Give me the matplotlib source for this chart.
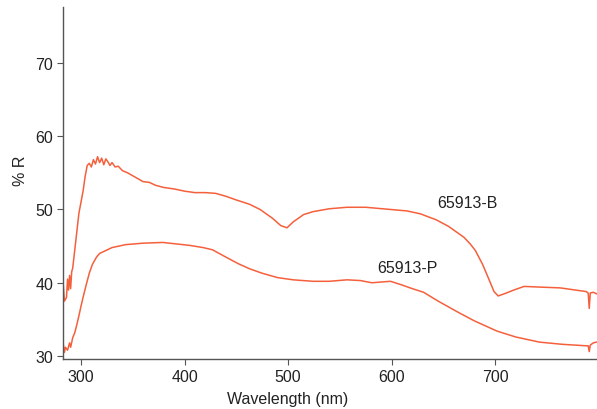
import matplotlib
matplotlib.use("Agg")
import matplotlib.pyplot as plt

plt.rcParams["font.family"] = ["Liberation Sans", "DejaVu Sans"]

wl_b = [283, 284, 286, 287, 288, 289, 290, 291, 292, 294, 296, 298, 300, 302, 304, 306,
        308, 310, 312, 314, 316, 318, 320, 322, 324, 326, 328, 330, 333, 336, 340, 345,
        350, 355, 360, 366, 372, 380, 390, 400, 410, 420, 430, 440, 450, 463, 473, 485,
        493, 499, 505, 515, 524, 540, 557, 575, 599, 615, 628, 643, 655, 663, 670, 676,
        681, 688, 694, 699, 703, 709, 718, 728, 745, 763, 778, 788, 790, 791, 792, 795, 798]
r_b = [39.5, 37.5, 38.0, 40.5, 39.0, 41.0, 39.2, 41.5, 42.0, 44.5, 47.0, 49.5, 51.0, 52.5,
       54.5, 56.0, 56.3, 55.8, 56.8, 56.2, 57.2, 56.4, 57.0, 56.1, 56.9, 56.5, 56.0, 56.4,
       55.8, 55.9, 55.3, 55.0, 54.6, 54.2, 53.8, 53.7, 53.3, 53.0, 52.8, 52.5, 52.3, 52.3,
       52.2, 51.8, 51.3, 50.7, 50.0, 48.8, 47.8, 47.5, 48.3, 49.3, 49.7, 50.1, 50.3, 50.3,
       50.0, 49.8, 49.4, 48.6, 47.7, 46.9, 46.2, 45.3, 44.4, 42.5, 40.5, 38.8, 38.2, 38.5,
       39.0, 39.5, 39.4, 39.3, 39.0, 38.8, 38.6, 36.5, 38.6, 38.7, 38.5]

wl_p = [283, 284, 285, 287, 289, 290, 292, 294, 296, 298, 300, 302, 305, 308, 311, 315,
        318, 324, 330, 343, 360, 379, 392, 405, 418, 427, 440, 452, 463, 475, 490, 505,
        524, 540, 557, 570, 581, 590, 599, 610, 620, 631, 645, 664, 680, 702, 720, 743,
        765, 788, 790, 791, 792, 795, 798]
r_p = [31.5, 30.5, 31.2, 30.8, 31.8, 31.2, 32.5, 33.2, 34.3, 35.5, 36.8, 38.0, 39.7, 41.3,
       42.5, 43.5, 44.0, 44.4, 44.8, 45.2, 45.4, 45.5, 45.3, 45.1, 44.8, 44.5, 43.5, 42.6,
       41.9, 41.3, 40.7, 40.4, 40.2, 40.2, 40.4, 40.3, 40.0, 40.1, 40.2, 39.7, 39.2, 38.7,
       37.5, 36.0, 34.8, 33.4, 32.6, 31.9, 31.6, 31.4, 31.4, 30.6, 31.5, 31.8, 31.9]

color = "#f5603c"
text_color = "#222222"
axis_color = "#555555"
fs = 11.5

fig = plt.figure(figsize=(5.97, 4.10), dpi=100)
ax = fig.add_axes([0.1055, 0.122, 0.8945, 0.858])

ax.plot(wl_b, r_b, color=color, lw=1.1)
ax.plot(wl_p, r_p, color=color, lw=1.1)

ax.text(644, 51.0, "65913-B", fontsize=fs, va="center", ha="left", color=text_color)
ax.text(586, 42.1, "65913-P", fontsize=fs, va="center", ha="left", color=text_color)

ax.set_xlim(282.6, 798.5)
ax.set_ylim(29.6, 77.6)
ax.set_xticks([300, 400, 500, 600, 700])
ax.set_yticks([30, 40, 50, 60, 70])
ax.set_xlabel("Wavelength (nm)", fontsize=fs, color=text_color)
ax.set_ylabel("% R", fontsize=fs, color=text_color)
ax.xaxis.set_label_coords(0.42, -0.092)
ax.yaxis.set_label_coords(-0.066, 0.537)
ax.tick_params(labelsize=fs, length=4, width=0.8, color=axis_color, labelcolor=text_color, pad=3)

for side in ["top", "right"]:
    ax.spines[side].set_visible(False)
for side in ["left", "bottom"]:
    ax.spines[side].set_color(axis_color)
    ax.spines[side].set_linewidth(1.0)

fig.savefig("out.png", dpi=100)
